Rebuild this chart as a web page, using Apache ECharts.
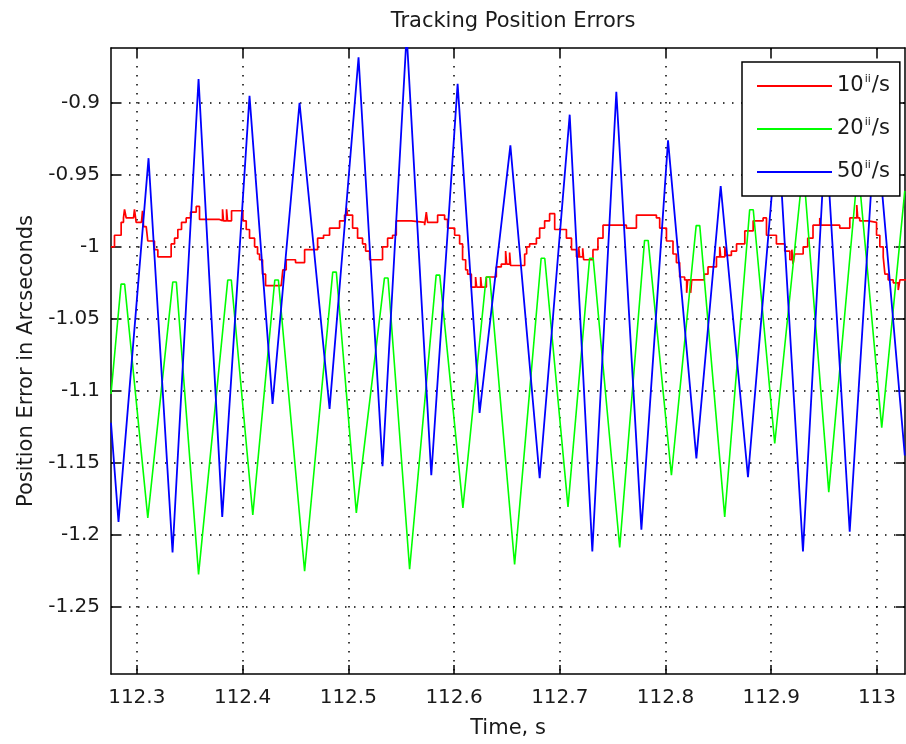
<!DOCTYPE html>
<html>
<head>
<meta charset="utf-8">
<title>Tracking Position Errors</title>
<script src="https://cdn.jsdelivr.net/npm/echarts@6/dist/echarts.min.js"></script>
<style>
  html, body { margin: 0; padding: 0; background: #fff; }
  #chart { width: 906px; height: 744px; }
</style>
</head>
<body>
<div id="chart"></div>
<script>
// Visible window of the time axis (s) and of the error axis (arcsec)
const timeRange = [112.2756, 113.0265];
const errorRange = [-1.2966, -0.862];

// Tick positions on both axes
const timeTicks = [112.3, 112.4, 112.5, 112.6, 112.7, 112.8, 112.9, 113.0];
const errorTicks = [-1.25, -1.2, -1.15, -1.1, -1.05, -1.0, -0.95, -0.9];

// Legend entries: rate value and colour
const rateNames = ['10', '20', '50'];
const rateColors = ['#ff0000', '#00ff00', '#0000ff'];

// 10"/s tracking error, stair-stepped samples [time, error]
const rate10 = [
  [112.2756,-1.000],[112.2789,-0.992],[112.2852,-0.983],[112.2874,-0.980],[112.2884,-0.974],
  [112.2900,-0.980],[112.2969,-0.980],[112.2978,-0.974],[112.2994,-0.983],[112.3044,-0.983],
  [112.3054,-0.975],[112.3064,-0.986],[112.3089,-0.987],[112.3104,-0.996],[112.3167,-1.002],
  [112.3199,-1.007],[112.3325,-0.998],[112.3357,-0.994],[112.3388,-0.988],[112.3423,-0.983],
  [112.3467,-0.980],[112.3508,-0.976],[112.3562,-0.972],[112.3593,-0.981],[112.3782,-0.982],
  [112.3811,-0.974],[112.3820,-0.982],[112.3849,-0.974],[112.3858,-0.982],[112.3896,-0.975],
  [112.4003,-0.982],[112.4035,-0.988],[112.4066,-0.994],[112.4114,-1.000],[112.4142,-1.005],
  [112.4161,-1.009],[112.4189,-1.019],[112.4218,-1.027],[112.4366,-1.028],[112.4381,-1.016],
  [112.4413,-1.009],[112.4501,-1.011],[112.4587,-1.002],[112.4710,-0.994],[112.4766,-0.992],
  [112.4823,-0.987],[112.4918,-0.982],[112.4965,-0.978],[112.4984,-0.973],[112.4993,-0.978],
  [112.5041,-0.987],[112.5088,-0.994],[112.5135,-0.998],[112.5164,-1.003],[112.5202,-1.009],
  [112.5324,-1.000],[112.5372,-0.994],[112.5419,-0.992],[112.5454,-0.982],[112.5596,-0.983],
  [112.5722,-0.985],[112.5738,-0.976],[112.5750,-0.983],[112.5845,-0.978],[112.5911,-0.981],
  [112.5939,-0.987],[112.6006,-0.992],[112.6053,-0.998],[112.6081,-1.009],[112.6110,-1.016],
  [112.6129,-1.019],[112.6164,-1.028],[112.6204,-1.021],[112.6214,-1.028],[112.6252,-1.021],
  [112.6261,-1.028],[112.6306,-1.021],[112.6400,-1.014],[112.6447,-1.012],[112.6488,-1.003],
  [112.6498,-1.012],[112.6526,-1.004],[112.6535,-1.013],[112.6668,-1.005],[112.6687,-1.000],
  [112.6715,-0.998],[112.6779,-0.994],[112.6810,-0.987],[112.6857,-0.982],[112.6904,-0.977],
  [112.6952,-0.988],[112.7063,-0.994],[112.7111,-1.002],[112.7158,-1.007],[112.7179,-1.000],
  [112.7188,-1.007],[112.7217,-1.001],[112.7226,-1.009],[112.7314,-1.002],[112.7361,-0.994],
  [112.7409,-0.985],[112.7598,-0.985],[112.7630,-0.987],[112.7725,-0.978],[112.7914,-0.980],
  [112.7945,-0.987],[112.8009,-0.996],[112.8071,-1.005],[112.8103,-1.011],[112.8134,-1.021],
  [112.8181,-1.023],[112.8200,-1.032],[112.8210,-1.023],[112.8238,-1.032],[112.8248,-1.023],
  [112.8367,-1.019],[112.8402,-1.014],[112.8482,-1.007],[112.8513,-1.000],[112.8522,-1.007],
  [112.8561,-1.000],[112.8570,-1.006],[112.8623,-1.003],[112.8672,-0.998],[112.8750,-0.989],
  [112.8829,-0.982],[112.8923,-0.980],[112.8955,-0.992],[112.9049,-0.998],[112.9128,-1.003],
  [112.9176,-1.009],[112.9195,-1.002],[112.9206,-1.012],[112.9222,-1.005],[112.9302,-1.000],
  [112.9345,-0.994],[112.9395,-0.985],[112.9459,-0.980],[112.9468,-0.985],[112.9648,-0.987],
  [112.9743,-0.980],[112.9809,-0.971],[112.9818,-0.980],[112.9837,-0.982],[112.9916,-0.983],
  [112.9996,-0.992],[113.0027,-1.000],[113.0059,-1.007],[113.0075,-1.019],[113.0106,-1.023],
  [113.0154,-1.025],[113.0201,-1.030],[113.0217,-1.023],[113.0274,-1.023]
];

// 20"/s tracking error, turning points with short flat crests [time, error]
const rate20 = [
  [112.2756,-1.1022],[112.2851,-1.0259],[112.2885,-1.0259],[112.3104,-1.1882],
  [112.3340,-1.0245],[112.3374,-1.0245],[112.3584,-1.2274],
  [112.3860,-1.0231],[112.3894,-1.0231],[112.4097,-1.1861],
  [112.4305,-1.0231],[112.4339,-1.0231],[112.4587,-1.2253],
  [112.4853,-1.0176],[112.4887,-1.0176],[112.5076,-1.1847],
  [112.5342,-1.0217],[112.5376,-1.0217],[112.5580,-1.2239],
  [112.5831,-1.0197],[112.5865,-1.0197],[112.6084,-1.1813],
  [112.6304,-1.0210],[112.6338,-1.0210],[112.6573,-1.2205],
  [112.6824,-1.0080],[112.6858,-1.0080],[112.7078,-1.1806],
  [112.7282,-1.0080],[112.7316,-1.0080],[112.7567,-1.2088],
  [112.7802,-0.9956],[112.7836,-0.9956],[112.8056,-1.1586],
  [112.8290,-0.9853],[112.8324,-0.9853],[112.8560,-1.1875],
  [112.8796,-0.9743],[112.8830,-0.9743],[112.9033,-1.1366],
  [112.9283,-0.9580],[112.9317,-0.9580],[112.9544,-1.1703],
  [112.9804,-0.9580],[112.9838,-0.9580],[113.0045,-1.1256],
  [113.0263,-0.9612]
];

// 50"/s tracking error, turning points [time, error]
const rate50 = [
  [112.2756,-1.1222],[112.2827,-1.1910],[112.3111,-0.9385],[112.3338,-1.2122],[112.3584,-0.8835],
  [112.3808,-1.1875],[112.4066,-0.8952],[112.4284,-1.1091],[112.4539,-0.9000],[112.4823,-1.1125],
  [112.5097,-0.8684],[112.5324,-1.1524],[112.5552,-0.8525],[112.5785,-1.1586],[112.6034,-0.8869],
  [112.6242,-1.1153],[112.6533,-0.9296],[112.6810,-1.1607],[112.7094,-0.9083],[112.7308,-1.2116],
  [112.7535,-0.8924],[112.7772,-1.1964],[112.8024,-0.9261],[112.8292,-1.1469],[112.8522,-0.9578],
  [112.8780,-1.1600],[112.9061,-0.9150],[112.9300,-1.2116],[112.9515,-0.9200],[112.9742,-1.1978],
  [112.9988,-0.9100],[113.0263,-1.1449]
];

const FONT = 'DejaVu Sans';
const INK = '#1a1a1a';

const chart = echarts.init(document.getElementById('chart'), null, { renderer: 'canvas' });

const frameLine = { show: true, lineStyle: { color: '#000', width: 1.5 } };
const innerTick = (values) => ({ inside: true, length: 9, customValues: values, lineStyle: { color: '#000', width: 1.5 } });
const dotted = { show: true, lineStyle: { color: '#000', width: 1.5, type: [1.5, 7.5] } };
const trim = (v, d) => String(+(+v).toFixed(d));

const seriesNames = rateNames.map(r => r + '\u2033/s');
const labelOf = {};
rateNames.forEach((r, i) => { labelOf[seriesNames[i]] = '{n|' + r + '}{sup|ii}{n|/s}'; });

chart.setOption({
  animation: false,
  backgroundColor: '#fff',
  title: {
    text: 'Tracking Position Errors',
    left: 508,
    textAlign: 'center',
    top: 6,
    textStyle: { fontFamily: FONT, fontSize: 21, fontWeight: 'normal', color: INK }
  },
  grid: { left: 111, top: 48, right: 1, bottom: 64, containLabel: false },
  legend: {
    orient: 'vertical',
    left: 742,
    top: 62,
    padding: [12, 10, 12, 15],
    icon: 'rect',
    itemWidth: 75,
    itemHeight: 2,
    itemGap: 19,
    backgroundColor: '#fff',
    borderColor: '#000',
    borderWidth: 1.5,
    data: seriesNames,
    formatter: name => labelOf[name],
    textStyle: {
      lineHeight: 24,
      rich: {
        n: { fontFamily: FONT, fontSize: 21, color: INK, lineHeight: 24 },
        sup: { fontFamily: FONT, fontSize: 11, color: INK, verticalAlign: 'top', lineHeight: 24, padding: [0, 1, 8, 1] }
      }
    }
  },
  xAxis: [
    {
      type: 'value',
      position: 'bottom',
      min: timeRange[0], max: timeRange[1],
      axisLine: frameLine, axisTick: innerTick(timeTicks),
      axisLabel: { customValues: timeTicks, formatter: v => trim(v, 1), fontFamily: FONT, fontSize: 20, color: INK, margin: 14 },
      splitLine: dotted,
      name: 'Time, s', nameLocation: 'middle', nameGap: 44,
      nameTextStyle: { fontFamily: FONT, fontSize: 21, color: INK }
    },
    {
      type: 'value',
      position: 'top',
      min: timeRange[0], max: timeRange[1],
      axisLine: frameLine, axisTick: innerTick(timeTicks),
      axisLabel: { show: false }, splitLine: { show: false }
    }
  ],
  yAxis: [
    {
      type: 'value',
      position: 'left',
      min: errorRange[0], max: errorRange[1],
      axisLine: frameLine, axisTick: innerTick(errorTicks),
      axisLabel: { customValues: errorTicks, formatter: v => trim(v, 2), fontFamily: FONT, fontSize: 20, color: INK, margin: 11 },
      splitLine: dotted,
      name: 'Position Error in Arcseconds', nameLocation: 'middle', nameGap: 74,
      nameTextStyle: { fontFamily: FONT, fontSize: 21, color: INK }
    },
    {
      type: 'value',
      position: 'right',
      min: errorRange[0], max: errorRange[1],
      axisLine: frameLine, axisTick: innerTick(errorTicks),
      axisLabel: { show: false }, splitLine: { show: false }
    }
  ],
  series: [
    { name: seriesNames[0], type: 'line', step: 'end', data: rate10, symbol: 'none',
      lineStyle: { color: rateColors[0], width: 1.7 }, itemStyle: { color: rateColors[0] } },
    { name: seriesNames[1], type: 'line', data: rate20, symbol: 'none',
      lineStyle: { color: rateColors[1], width: 1.6 }, itemStyle: { color: rateColors[1] } },
    { name: seriesNames[2], type: 'line', data: rate50, symbol: 'none',
      lineStyle: { color: rateColors[2], width: 1.8 }, itemStyle: { color: rateColors[2] } }
  ]
});
</script>
</body>
</html>
